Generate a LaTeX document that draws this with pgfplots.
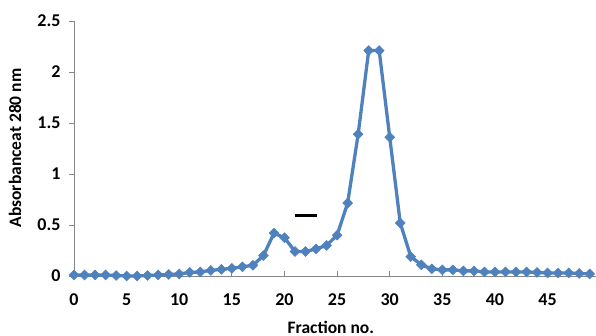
\documentclass[border=0pt]{standalone}
\usepackage{pgfplots}
\pgfplotsset{compat=1.18}
\usepackage{fontspec}
\setmainfont{Carlito}
\definecolor{exblue}{HTML}{4F81BD}
\definecolor{axgray}{HTML}{868686}
\pgfplotstableread{
x y
0 0.01
1 0.01
2 0.01
3 0.01
4 0.005
5 0.0
6 0.0
7 0.005
8 0.01
9 0.015
10 0.02
11 0.035
12 0.04
13 0.055
14 0.065
15 0.075
16 0.09
17 0.105
18 0.20
19 0.42
20 0.375
21 0.24
22 0.24
23 0.265
24 0.30
25 0.40
26 0.715
27 1.39
28 2.21
29 2.21
30 1.36
31 0.52
32 0.19
33 0.11
34 0.07
35 0.06
36 0.06
37 0.05
38 0.05
39 0.04
40 0.04
41 0.04
42 0.04
43 0.04
44 0.035
45 0.03
46 0.03
47 0.03
48 0.025
49 0.02
}\datatable
\begin{document}
\begin{tikzpicture}
\useasboundingbox (0,0) rectangle (596pt,336pt);
\begin{axis}[
  at={(74pt,60pt)}, anchor=south west,
  scale only axis, width=522pt, height=255pt,
  xmin=0, xmax=49.6, ymin=0, ymax=2.5,
  axis lines=left,
  axis line style={axgray, line width=0.8pt, -},
  xtick={0,5,...,45},
  ytick={0,0.5,1,1.5,2,2.5},
  yticklabels={0,0.5,1,1.5,2,2.5},
  tick align=inside,
  major tick length=5pt,
  tick style={axgray, line width=0.8pt},
  y tick style={xshift=-5pt},
  /pgf/number format/assume math mode=true,
  tick label style={font=\fontsize{18}{20}\selectfont\bfseries, black},
  xticklabel style={yshift=-14pt},
  yticklabel style={xshift=-10pt},
  xlabel={Fraction no.},
  ylabel={Absorbanceat 280 nm},
  every axis x label/.style={at={(axis description cs:0.492,-0.200)}, anchor=center, font=\fontsize{17.5}{19}\selectfont\bfseries},
  every axis y label/.style={at={(axis description cs:-0.113,0.502)}, rotate=90, anchor=center, font=\fontsize{17.5}{19}\selectfont\bfseries},
  clip=false,
]
\addplot[exblue, line width=3.3pt, mark=square*, mark size=3.5pt,
  mark options={rotate=45, line width=0.5pt, fill=exblue, draw=exblue}] table[x=x,y=y] {\datatable};
\addplot[black, line width=3pt, no marks] coordinates {(21,0.59) (23.1,0.59)};
\end{axis}
\end{tikzpicture}
\end{document}
